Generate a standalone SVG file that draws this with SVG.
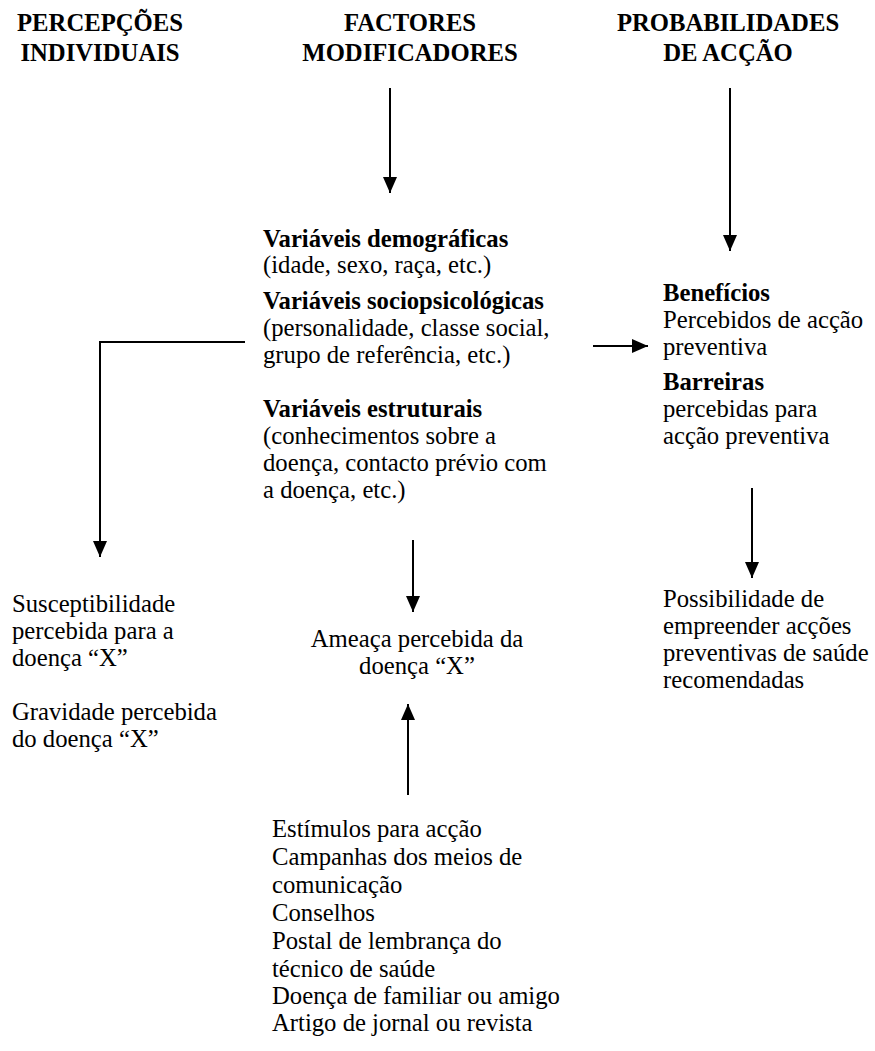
<svg xmlns="http://www.w3.org/2000/svg" width="875" height="1051" viewBox="0 0 875 1051" font-family="Liberation Serif, Times New Roman, DejaVu Serif, serif">
  <style>
    text { font-family: 'Liberation Serif', 'Times New Roman', 'DejaVu Serif', serif; font-size: 24.7px; fill: #000; }
    .h { font-weight: bold; text-anchor: middle; }
    .b { font-weight: bold; }
    .c { text-anchor: middle; }
    .ln { fill: none; stroke: #000; stroke-width: 2; }
  </style>
  <defs>
    <marker id="ah" viewBox="0 0 16 14" refX="16" refY="7" markerWidth="16" markerHeight="14" markerUnits="userSpaceOnUse" orient="auto">
      <path d="M0,0 L16,7 L0,14 Z" fill="#000"/>
    </marker>
  </defs>

  <rect width="875" height="1051" fill="#fff"/>

  <!-- column headings -->
  <g id="head-percepcoes">
    <text class="h" x="100" y="31">PERCEPÇÕES</text>
    <text class="h" x="100" y="61">INDIVIDUAIS</text>
  </g>
  <g id="head-factores">
    <text class="h" x="410" y="31">FACTORES</text>
    <text class="h" x="410" y="61">MODIFICADORES</text>
  </g>
  <g id="head-probabilidades">
    <text class="h" x="728" y="31">PROBABILIDADES</text>
    <text class="h" x="728" y="61">DE ACÇÃO</text>
  </g>

  <!-- modifying factors -->
  <g id="variaveis">
    <text class="b" x="263" y="247">Variáveis demográficas</text>
    <text x="263" y="273">(idade, sexo, raça, etc.)</text>
    <text class="b" x="263" y="309">Variáveis sociopsicológicas</text>
    <text x="263" y="336">(personalidade, classe social,</text>
    <text x="263" y="363">grupo de referência, etc.)</text>
    <text class="b" x="263" y="417">Variáveis estruturais</text>
    <text x="263" y="444">(conhecimentos sobre a</text>
    <text x="263" y="471">doença, contacto prévio com</text>
    <text x="263" y="498">a doença, etc.)</text>
  </g>

  <!-- likelihood of action -->
  <g id="beneficios">
    <text class="b" x="663" y="301">Benefícios</text>
    <text x="663" y="328">Percebidos de acção</text>
    <text x="663" y="355">preventiva</text>
    <text class="b" x="663" y="390">Barreiras</text>
    <text x="663" y="417">percebidas para</text>
    <text x="663" y="444">acção preventiva</text>
  </g>
  <g id="possibilidade">
    <text x="663" y="607">Possibilidade de</text>
    <text x="663" y="634">empreender acções</text>
    <text x="663" y="661">preventivas de saúde</text>
    <text x="663" y="688">recomendadas</text>
  </g>

  <!-- individual perceptions -->
  <g id="susceptibilidade">
    <text x="12" y="612">Susceptibilidade</text>
    <text x="12" y="639">percebida para a</text>
    <text x="12" y="666">doença “X”</text>
    <text x="12" y="720">Gravidade percebida</text>
    <text x="12" y="747">do doença “X”</text>
  </g>

  <g id="ameaca">
    <text class="c" x="417" y="647">Ameaça percebida da</text>
    <text class="c" x="417" y="674">doença “X”</text>
  </g>

  <g id="estimulos">
    <text x="272" y="837">Estímulos para acção</text>
    <text x="272" y="865">Campanhas dos meios de</text>
    <text x="272" y="893">comunicação</text>
    <text x="272" y="921">Conselhos</text>
    <text x="272" y="949">Postal de lembrança do</text>
    <text x="272" y="977">técnico de saúde</text>
    <text x="272" y="1004">Doença de familiar ou amigo</text>
    <text x="272" y="1031">Artigo de jornal ou revista</text>
  </g>

  <!-- connectors -->
  <g id="connectors">
    <line class="ln" x1="390" y1="88" x2="390" y2="193" marker-end="url(#ah)"/>
    <line class="ln" x1="730" y1="88" x2="730" y2="251" marker-end="url(#ah)"/>
    <polyline class="ln" points="245,342 100,342 100,557" marker-end="url(#ah)"/>
    <line class="ln" x1="593" y1="346" x2="648" y2="346" marker-end="url(#ah)"/>
    <line class="ln" x1="413" y1="540" x2="413" y2="612" marker-end="url(#ah)"/>
    <line class="ln" x1="408" y1="795" x2="408" y2="704" marker-end="url(#ah)"/>
    <line class="ln" x1="752" y1="488" x2="752" y2="578" marker-end="url(#ah)"/>
  </g>
</svg>
